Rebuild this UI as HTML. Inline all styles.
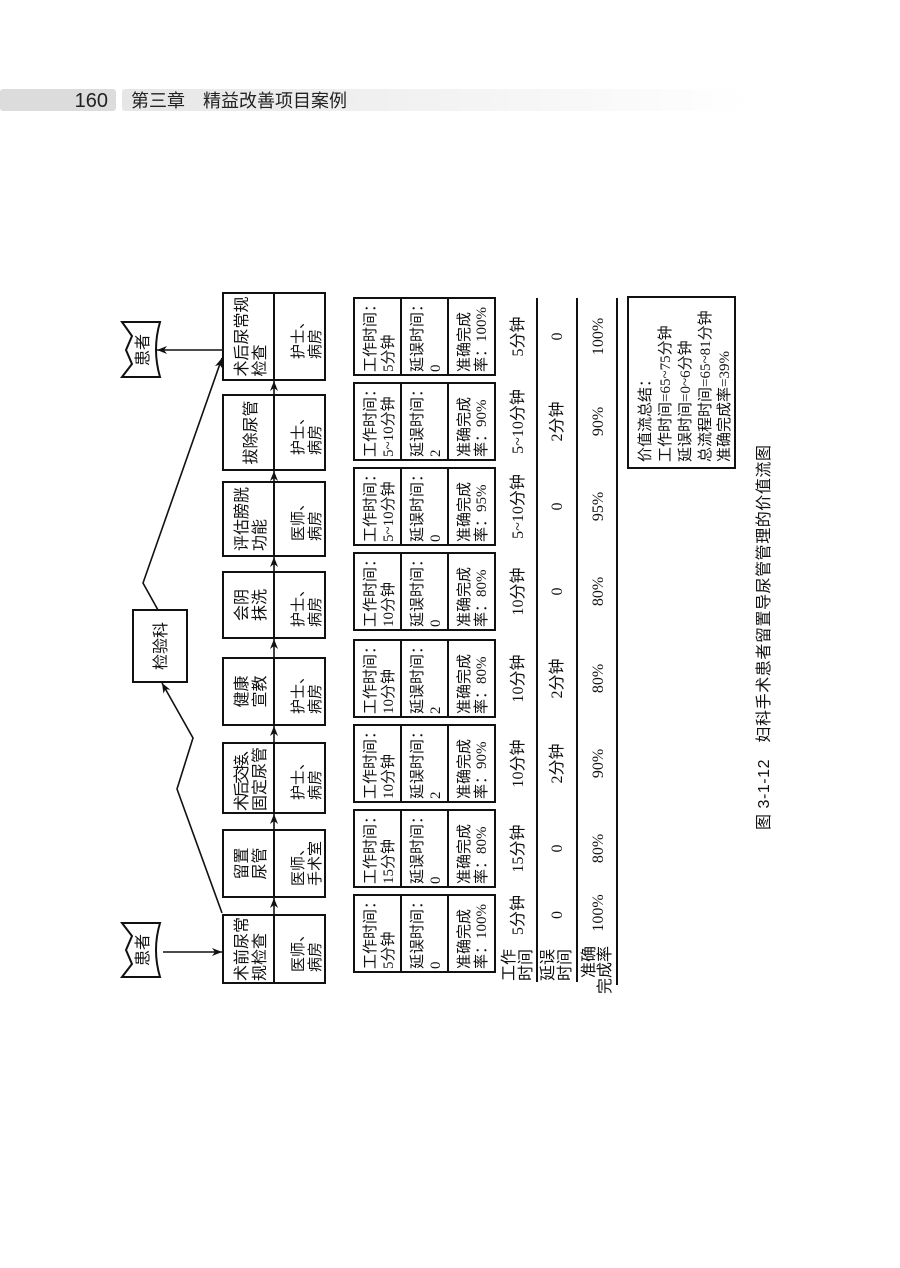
<!DOCTYPE html>
<html><head><meta charset="utf-8"><style>
html,body{margin:0;padding:0;background:#fff;}
body{width:900px;height:1268px;overflow:hidden;position:relative;}
svg{position:absolute;left:0;top:0;}
.s{font-family:"Liberation Sans","Noto Sans CJK SC",sans-serif;font-size:16px;fill:#111;}
.b{font-family:"Liberation Sans","Noto Sans CJK SC",sans-serif;font-size:15px;fill:#111;}
.d{font-family:"Liberation Serif","Noto Sans CJK SC",sans-serif;font-size:15px;fill:#111;}
.v{font-family:"Liberation Serif","Noto Sans CJK SC",sans-serif;font-size:16px;fill:#111;text-anchor:middle;}
.m{text-anchor:middle;}
</style></head><body>
<svg width="900" height="1268" viewBox="0 0 900 1268" xmlns="http://www.w3.org/2000/svg">
<defs>
<linearGradient id="g" x1="0" x2="1" y1="0" y2="0"><stop offset="0" stop-color="#e6e6e6"/><stop offset="1" stop-color="#ffffff"/></linearGradient>
<marker id="a" viewBox="0 0 10 10" refX="10" refY="5" markerWidth="10" markerHeight="10" orient="auto" markerUnits="userSpaceOnUse"><path d="M0,1 L10,5 L0,9 L3,5z" fill="#111"/></marker>
</defs>
<!-- header -->
<rect x="0" y="89" width="116" height="22" rx="3" fill="#dcdcdc"/>
<rect x="122" y="89" width="630" height="22" rx="3" fill="url(#g)"/>
<text x="108" y="107" font-family="Liberation Sans,sans-serif" font-size="20" text-anchor="end" fill="#222">160</text>
<text x="131" y="107" font-family="Liberation Sans,'Noto Sans CJK SC',sans-serif" font-size="18" fill="#222">第三章　精益改善项目案例</text>

<g stroke="#111" stroke-width="2" fill="none">
<rect x="223" y="293" width="102" height="87"/><line x1="274" y1="293" x2="274" y2="380"/>
<rect x="223" y="395" width="102" height="75"/><line x1="274" y1="395" x2="274" y2="470"/>
<rect x="223" y="482" width="102" height="74"/><line x1="274" y1="482" x2="274" y2="556"/>
<rect x="223" y="572" width="102" height="66"/><line x1="274" y1="572" x2="274" y2="638"/>
<rect x="223" y="658" width="102" height="67"/><line x1="274" y1="658" x2="274" y2="725"/>
<rect x="223" y="743" width="102" height="70"/><line x1="274" y1="743" x2="274" y2="813"/>
<rect x="223" y="830" width="102" height="67"/><line x1="274" y1="830" x2="274" y2="897"/>
<rect x="223" y="915" width="102" height="68"/><line x1="274" y1="915" x2="274" y2="983"/>
<rect x="133" y="610" width="54" height="72"/>
<path d="M122,322 L160,322 Q152,349.5 160,377 L122,377 L132,364 L126,350 L132,336 Z"/>
<path d="M122,923 L160,923 Q152,950 160,977 L122,977 L132,964 L126,950 L132,936 Z"/>
<g>
<rect x="354" y="298" width="141" height="77"/><line x1="401" y1="298" x2="401" y2="375"/><line x1="448" y1="298" x2="448" y2="375"/>
<rect x="354" y="383" width="141" height="77"/><line x1="401" y1="383" x2="401" y2="460"/><line x1="448" y1="383" x2="448" y2="460"/>
<rect x="354" y="468" width="141" height="77"/><line x1="401" y1="468" x2="401" y2="545"/><line x1="448" y1="468" x2="448" y2="545"/>
<rect x="354" y="553" width="141" height="77"/><line x1="401" y1="553" x2="401" y2="630"/><line x1="448" y1="553" x2="448" y2="630"/>
<rect x="354" y="640" width="141" height="77"/><line x1="401" y1="640" x2="401" y2="717"/><line x1="448" y1="640" x2="448" y2="717"/>
<rect x="354" y="725" width="141" height="77"/><line x1="401" y1="725" x2="401" y2="802"/><line x1="448" y1="725" x2="448" y2="802"/>
<rect x="354" y="810" width="141" height="77"/><line x1="401" y1="810" x2="401" y2="887"/><line x1="448" y1="810" x2="448" y2="887"/>
<rect x="354" y="895" width="141" height="77"/><line x1="401" y1="895" x2="401" y2="972"/><line x1="448" y1="895" x2="448" y2="972"/>
</g>
<line x1="537" y1="298" x2="537" y2="982"/>
<line x1="577" y1="298" x2="577" y2="982"/>
<line x1="617" y1="298" x2="617" y2="985"/>
<rect x="628" y="297" width="107" height="171"/>
</g>

<g stroke="#111" stroke-width="1.6" fill="none">
<line x1="274" y1="915" x2="274" y2="898" marker-end="url(#a)"/>
<line x1="274" y1="830" x2="274" y2="814" marker-end="url(#a)"/>
<line x1="274" y1="743" x2="274" y2="726" marker-end="url(#a)"/>
<line x1="274" y1="658" x2="274" y2="639" marker-end="url(#a)"/>
<line x1="274" y1="572" x2="274" y2="557" marker-end="url(#a)"/>
<line x1="274" y1="482" x2="274" y2="471" marker-end="url(#a)"/>
<line x1="274" y1="395" x2="274" y2="381" marker-end="url(#a)"/>
<line x1="222" y1="350" x2="157" y2="350" marker-end="url(#a)"/>
<line x1="163" y1="952" x2="222" y2="952" marker-end="url(#a)"/>
<polyline points="222,913 177,789 193,738 162,683" marker-end="url(#a)"/>
<polyline points="158,610 143,583 222,358" marker-end="url(#a)"/>
</g>

<text class="s m" font-size="15" transform="translate(148 350) rotate(-90)">患者</text>
<text class="s m" font-size="15" transform="translate(148 950) rotate(-90)">患者</text>
<text class="s m" transform="translate(166 646) rotate(-90)">检验科</text>

<text class="s" transform="translate(247 376.5) rotate(-90)">术后尿常规</text>
<text class="s" transform="translate(265 376.5) rotate(-90)">检查</text>
<text class="b" transform="translate(303 359) rotate(-90)">护士、</text>
<text class="b" transform="translate(320 359) rotate(-90)">病房</text>

<text class="s m" transform="translate(256 432.5) rotate(-90)">拔除尿管</text>
<text class="b" transform="translate(303 455) rotate(-90)">护士、</text>
<text class="b" transform="translate(320 455) rotate(-90)">病房</text>

<text class="s" transform="translate(247 551) rotate(-90)">评估膀胱</text>
<text class="s" transform="translate(265 551) rotate(-90)">功能</text>
<text class="b" transform="translate(303 541) rotate(-90)">医师、</text>
<text class="b" transform="translate(320 541) rotate(-90)">病房</text>

<text class="s" transform="translate(247 621) rotate(-90)">会阴</text>
<text class="s" transform="translate(265 621) rotate(-90)">抹洗</text>
<text class="b" transform="translate(303 627) rotate(-90)">护士、</text>
<text class="b" transform="translate(320 627) rotate(-90)">病房</text>

<text class="s" transform="translate(247 707.5) rotate(-90)">健康</text>
<text class="s" transform="translate(265 707.5) rotate(-90)">宣教</text>
<text class="b" transform="translate(303 714) rotate(-90)">护士、</text>
<text class="b" transform="translate(320 714) rotate(-90)">病房</text>

<text class="s" font-size="15" textLength="70" transform="translate(247 811) rotate(-90)">术后交接、</text>
<text class="s" font-size="15" transform="translate(265 811) rotate(-90)">固定尿管</text>
<text class="b" transform="translate(303 800) rotate(-90)">护士、</text>
<text class="b" transform="translate(320 800) rotate(-90)">病房</text>

<text class="s" transform="translate(247 879.5) rotate(-90)">留置</text>
<text class="s" transform="translate(265 879.5) rotate(-90)">尿管</text>
<text class="b" transform="translate(303 886) rotate(-90)">医师、</text>
<text class="b" transform="translate(320 886) rotate(-90)">手术室</text>

<text class="s" transform="translate(247 981) rotate(-90)">术前尿常</text>
<text class="s" transform="translate(265 981) rotate(-90)">规检查</text>
<text class="b" transform="translate(303 972) rotate(-90)">医师、</text>
<text class="b" transform="translate(320 972) rotate(-90)">病房</text>

<g class="d">
<text transform="translate(375 372) rotate(-90)">工作时间：</text><text transform="translate(393 372) rotate(-90)">5分钟</text>
<text transform="translate(422 372) rotate(-90)">延误时间：</text><text transform="translate(440 372) rotate(-90)">0</text>
<text transform="translate(469 372) rotate(-90)">准确完成</text><text transform="translate(486 372) rotate(-90)">率：100%</text>

<text transform="translate(375 457) rotate(-90)">工作时间：</text><text transform="translate(393 457) rotate(-90)">5~10分钟</text>
<text transform="translate(422 457) rotate(-90)">延误时间：</text><text transform="translate(440 457) rotate(-90)">2</text>
<text transform="translate(469 457) rotate(-90)">准确完成</text><text transform="translate(486 457) rotate(-90)">率：90%</text>

<text transform="translate(375 542) rotate(-90)">工作时间：</text><text transform="translate(393 542) rotate(-90)">5~10分钟</text>
<text transform="translate(422 542) rotate(-90)">延误时间：</text><text transform="translate(440 542) rotate(-90)">0</text>
<text transform="translate(469 542) rotate(-90)">准确完成</text><text transform="translate(486 542) rotate(-90)">率：95%</text>

<text transform="translate(375 627) rotate(-90)">工作时间：</text><text transform="translate(393 627) rotate(-90)">10分钟</text>
<text transform="translate(422 627) rotate(-90)">延误时间：</text><text transform="translate(440 627) rotate(-90)">0</text>
<text transform="translate(469 627) rotate(-90)">准确完成</text><text transform="translate(486 627) rotate(-90)">率：80%</text>

<text transform="translate(375 714) rotate(-90)">工作时间：</text><text transform="translate(393 714) rotate(-90)">10分钟</text>
<text transform="translate(422 714) rotate(-90)">延误时间：</text><text transform="translate(440 714) rotate(-90)">2</text>
<text transform="translate(469 714) rotate(-90)">准确完成</text><text transform="translate(486 714) rotate(-90)">率：80%</text>

<text transform="translate(375 799) rotate(-90)">工作时间：</text><text transform="translate(393 799) rotate(-90)">10分钟</text>
<text transform="translate(422 799) rotate(-90)">延误时间：</text><text transform="translate(440 799) rotate(-90)">2</text>
<text transform="translate(469 799) rotate(-90)">准确完成</text><text transform="translate(486 799) rotate(-90)">率：90%</text>

<text transform="translate(375 884) rotate(-90)">工作时间：</text><text transform="translate(393 884) rotate(-90)">15分钟</text>
<text transform="translate(422 884) rotate(-90)">延误时间：</text><text transform="translate(440 884) rotate(-90)">0</text>
<text transform="translate(469 884) rotate(-90)">准确完成</text><text transform="translate(486 884) rotate(-90)">率：80%</text>

<text transform="translate(375 969) rotate(-90)">工作时间：</text><text transform="translate(393 969) rotate(-90)">5分钟</text>
<text transform="translate(422 969) rotate(-90)">延误时间：</text><text transform="translate(440 969) rotate(-90)">0</text>
<text transform="translate(469 969) rotate(-90)">准确完成</text><text transform="translate(486 969) rotate(-90)">率：100%</text>
</g>

<g class="v">
<text transform="translate(523 336.5) rotate(-90)">5分钟</text><text transform="translate(562 336.5) rotate(-90)">0</text><text transform="translate(603 336.5) rotate(-90)">100%</text>
<text transform="translate(523 421.5) rotate(-90)">5~10分钟</text><text transform="translate(562 421.5) rotate(-90)">2分钟</text><text transform="translate(603 421.5) rotate(-90)">90%</text>
<text transform="translate(523 506.5) rotate(-90)">5~10分钟</text><text transform="translate(562 506.5) rotate(-90)">0</text><text transform="translate(603 506.5) rotate(-90)">95%</text>
<text transform="translate(523 591.5) rotate(-90)">10分钟</text><text transform="translate(562 591.5) rotate(-90)">0</text><text transform="translate(603 591.5) rotate(-90)">80%</text>
<text transform="translate(523 678.5) rotate(-90)">10分钟</text><text transform="translate(562 678.5) rotate(-90)">2分钟</text><text transform="translate(603 678.5) rotate(-90)">80%</text>
<text transform="translate(523 763.5) rotate(-90)">10分钟</text><text transform="translate(562 763.5) rotate(-90)">2分钟</text><text transform="translate(603 763.5) rotate(-90)">90%</text>
<text transform="translate(523 848.5) rotate(-90)">15分钟</text><text transform="translate(562 848.5) rotate(-90)">0</text><text transform="translate(603 848.5) rotate(-90)">80%</text>
<text transform="translate(523 915) rotate(-90)">5分钟</text><text transform="translate(562 915) rotate(-90)">0</text><text transform="translate(603 913) rotate(-90)">100%</text>
<text transform="translate(514 965) rotate(-90)">工作</text><text transform="translate(531 965) rotate(-90)">时间</text>
<text transform="translate(553 965) rotate(-90)">延误</text><text transform="translate(570 965) rotate(-90)">时间</text>
<text transform="translate(594 962) rotate(-90)">准确</text><text transform="translate(610 970) rotate(-90)">完成率</text>
</g>

<g class="d" font-size="17">
<text transform="translate(650 462) rotate(-90)">价值流总结：</text>
<text transform="translate(670 462) rotate(-90)">工作时间=65~75分钟</text>
<text transform="translate(690 462) rotate(-90)">延误时间=0~6分钟</text>
<text transform="translate(710 462) rotate(-90)">总流程时间=65~81分钟</text>
<text transform="translate(729 462) rotate(-90)">准确完成率=39%</text>
</g>

<text class="s" font-size="17" textLength="385" transform="translate(769 830) rotate(-90)">图 3-1-12　妇科手术患者留置导尿管管理的价值流图</text>
</svg>
</body></html>
